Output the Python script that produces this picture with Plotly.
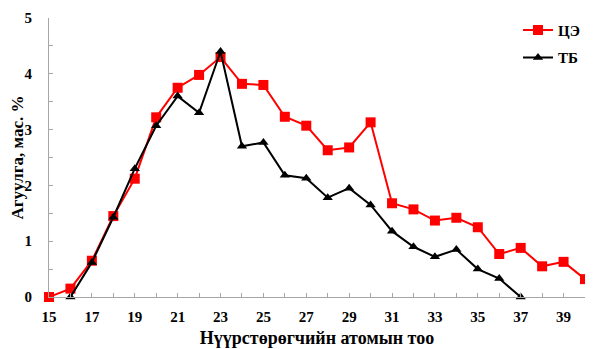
import plotly.graph_objects as go

x_ce = list(range(15, 41))
y_ce = [0, 0.15, 0.65, 1.45, 2.12, 3.22, 3.75, 3.98, 4.30, 3.82, 3.80, 3.23, 3.07,
        2.63, 2.68, 3.13, 1.68, 1.57, 1.37, 1.42, 1.25, 0.77, 0.88, 0.55, 0.63, 0.32]
x_tb = list(range(16, 38))
y_tb = [0, 0.62, 1.43, 2.30, 3.07, 3.60, 3.30, 4.40, 2.70, 2.77, 2.18, 2.13, 1.78,
        1.95, 1.65, 1.18, 0.90, 0.72, 0.85, 0.50, 0.33, 0]

font_family = "Liberation Serif, Times New Roman, serif"

def f(size):
    return dict(family=font_family, size=size, color="black", weight="bold")

fig = go.Figure()
fig.add_trace(go.Scatter(x=x_ce, y=y_ce, name="ЦЭ", mode="lines+markers",
                         line=dict(color="#ff0000", width=2),
                         marker=dict(symbol="square", size=10, color="#ff0000"),
                         legendgroup="a", cliponaxis=False))
fig.add_trace(go.Scatter(x=x_tb, y=y_tb, name="ТБ", mode="lines+markers",
                         line=dict(color="#000000", width=2),
                         marker=dict(symbol="triangle-up", size=9, color="#000000"),
                         legendgroup="b", cliponaxis=False))

axis_common = dict(showgrid=False, zeroline=False, showline=True, linecolor="#a6a6a6",
                   linewidth=1, ticks="inside", tickcolor="#a6a6a6", ticklen=4,
                   tickfont=f(15), automargin=False)

fig.update_xaxes(range=[15, 40], tick0=15, dtick=2,
                 minor=dict(dtick=1, ticks="inside", ticklen=4, tickcolor="#a6a6a6"),
                 title=dict(text="Нүүрстөрөгчийн атомын тоо", font=f(18), standoff=7),
                 ticklabelstandoff=6,
                 **axis_common)
fig.update_yaxes(range=[0, 5], tick0=0, dtick=1,
                 minor=dict(dtick=0.5, ticks="inside", ticklen=4, tickcolor="#a6a6a6"),
                 title=dict(text="Агуулга, мас. %", font=f(17), standoff=7),
                 ticklabelstandoff=13,
                 **axis_common)

# page body has an 8px default margin, so the figure is shrunk by 8px and margins shifted
fig.update_layout(width=585, height=341,
                  margin=dict(l=41, r=8, t=10, b=52, autoexpand=False),
                  paper_bgcolor="white", plot_bgcolor="white",
                  font=dict(family=font_family, color="black"),
                  legend=dict(x=0.875, y=1.015, xanchor="left", yanchor="top",
                              font=f(15), itemwidth=30,
                              traceorder="grouped", tracegroupgap=5,
                              bgcolor="rgba(0,0,0,0)"),
                  showlegend=True)

fig.write_html("out.html")
